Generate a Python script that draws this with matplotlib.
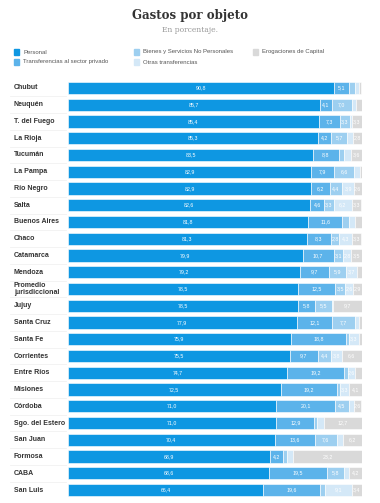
import matplotlib
matplotlib.use("Agg")
import matplotlib.pyplot as plt
from matplotlib.patches import Rectangle

categories = ["Chubut", "Neuquén", "T. del Fuego", "La Rioja", "Tucumán", "La Pampa",
              "Río Negro", "Salta", "Buenos Aires", "Chaco", "Catamarca", "Mendoza",
              "Promedio\njurisdiccional", "Jujuy", "Santa Cruz", "Santa Fe", "Corrientes",
              "Entre Ríos", "Misiones", "Córdoba", "Sgo. del Estero", "San Juan",
              "Formosa", "CABA", "San Luis"]

personal = [90.8, 85.7, 85.4, 85.3, 83.5, 82.9, 82.9, 82.6, 81.8, 81.3, 79.9, 79.2,
            78.5, 78.5, 77.9, 75.9, 75.5, 74.7, 72.5, 71.0, 71.0, 70.4, 68.9, 68.6, 66.4]
transferencias = [5.1, 4.1, 7.3, 4.2, 8.8, 7.9, 6.2, 4.6, 11.6, 8.3, 10.7, 9.7,
                  12.5, 5.8, 12.1, 18.8, 9.7, 19.2, 19.2, 20.1, 12.9, 13.6, 4.2, 19.5, 19.6]
bienes = [2.0, 7.0, 3.3, 5.7, 1.7, 6.6, 4.4, 3.3, 2.4, 2.8, 3.1, 5.9,
          3.5, 5.5, 7.7, 1.0, 4.4, 1.4, 0.9, 4.5, 1.1, 7.6, 1.4, 5.8, 1.5]
otras = [1.1, 1.2, 0.7, 2.0, 2.4, 2.1, 3.9, 6.2, 2.0, 4.3, 2.8, 3.7,
         2.6, 0.5, 1.6, 3.3, 3.8, 2.6, 3.3, 1.8, 2.3, 2.2, 2.3, 1.9, 9.1]
erogaciones = [1.0, 2.0, 3.3, 2.8, 3.6, 0.5, 2.6, 3.3, 2.2, 3.3, 3.5, 1.5,
               2.9, 9.7, 0.7, 1.0, 6.6, 2.1, 4.1, 2.6, 12.7, 6.2, 23.2, 4.2, 3.4]

series_names = ["Personal", "Transferencias al sector privado",
                "Bienes y Servicios No Personales", "Otras transferencias",
                "Erogaciones de Capital"]
series_values = [personal, transferencias, bienes, otras, erogaciones]
colors = ["#0e97e2", "#5cb3ea", "#9dcff0", "#d4e8f7", "#d9d9d9"]

W, H = 380, 503
fig = plt.figure(figsize=(W / 100, H / 100), dpi=100)
fig.patch.set_facecolor("white")

fig.text(0.5, 1 - 15 / H, "Gastos por objeto", ha="center", va="center",
         fontsize=8.5, fontweight="bold", family="DejaVu Serif", color="#333333")
fig.text(0.5, 1 - 30 / H, "En porcentaje.", ha="center", va="center",
         fontsize=5.5, family="DejaVu Serif", color="#999999")

# legend
leg_items = [(14, 52, 0), (134, 52, 2), (253, 52, 4), (14, 62, 1), (134, 62, 3)]
for x, y, k in leg_items:
    fig.patches.append(Rectangle((x / W, 1 - (y + 2.5) / H), 5 / W, 5 / H,
                                 transform=fig.transFigure, color=colors[k]))
    fig.text((x + 9) / W, 1 - y / H, series_names[k], ha="left", va="center",
             fontsize=4.3, family="Liberation Sans", color="#555555")

n = len(categories)
top_px, bot_px = 79.6, 498.4
ax = fig.add_axes([68 / W, 1 - bot_px / H, 293.5 / W, (bot_px - top_px) / H])
ax.set_xlim(0, 100)
ax.set_ylim(n - 0.5, -0.5)
ax.axis("off")

ypos = list(range(n))
left = [0.0] * n
for vals, col in zip(series_values, colors):
    ax.barh(ypos, vals, left=left, height=0.72, color=col, edgecolor="white",
            linewidth=0.4)
    for i, v in enumerate(vals):
        if v >= 2.5:
            ax.text(left[i] + v / 2, i, f"{v:.1f}".replace(".", ","), ha="center",
                    va="center", fontsize=3.8, color="white", family="Liberation Sans")
    left = [l + v for l, v in zip(left, vals)]

# category labels and faint separators
for i, c in enumerate(categories):
    yc = top_px + (i + 0.5) * (bot_px - top_px) / n
    fig.text(14 / W, 1 - yc / H, c, ha="left", va="center", fontsize=5,
             fontweight="bold", family="Liberation Sans", color="#333333",
             linespacing=1.0)
    if i > 0:
        ysep = top_px + i * (bot_px - top_px) / n
        fig.lines.append(plt.Line2D([10 / W, 66 / W], [1 - ysep / H, 1 - ysep / H],
                                    transform=fig.transFigure, color="#eeeeee",
                                    linewidth=0.5))

fig.savefig("out.png", dpi=100, facecolor="white")
